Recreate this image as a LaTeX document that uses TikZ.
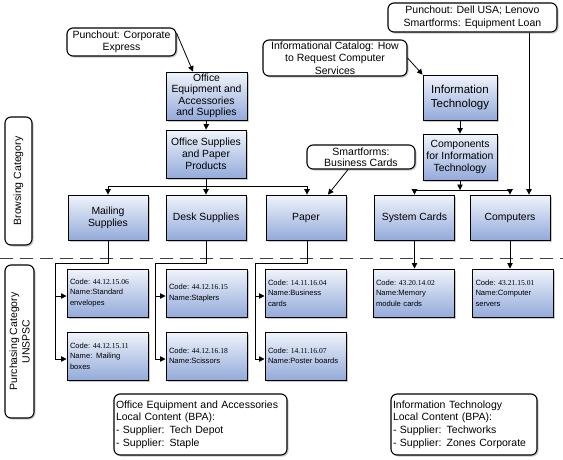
\documentclass[tikz,border=0pt]{standalone}
\usepackage{fontspec}
\setmainfont{Liberation Sans}
\newfontfamily\numfont{Liberation Serif}
\usetikzlibrary{shadows,arrows.meta}
\definecolor{boxtop}{HTML}{F0F4FB}
\definecolor{boxbot}{HTML}{93AADA}
\definecolor{dashgray}{HTML}{404040}
\tikzset{
  shad/.style={drop shadow={shadow xshift=1.5pt,shadow yshift=-1.5pt,fill=black!35,opacity=0.6}},
  bluebox/.style={draw,line width=0.8pt,top color=boxtop,bottom color=boxbot,shad,
    align=center,inner sep=1pt,font=\fontsize{10.4}{12}\selectfont},
  codebox/.style={bluebox,align=left,inner sep=3pt,text width=75pt,
    minimum width=81pt,minimum height=48pt,line width=1pt,font=\fontsize{7.6}{10.5}\selectfont},
  callout/.style={draw,line width=1.1pt,rounded corners=6pt,fill=white,shad,
    align=center,inner sep=1pt,font=\fontsize{10.5}{12.5}\selectfont},
  leftcall/.style={callout,align=left,inner sep=2pt},
  conn/.style={draw,line width=0.8pt,-{Triangle[length=5.5pt,width=5.5pt]}},
  plain/.style={draw,line width=0.8pt},
}
\newcommand{\cd}[1]{Code:~{\numfont #1}}
\begin{document}
\begin{tikzpicture}[x=1pt,y=-1pt]
\useasboundingbox (0,0) rectangle (563,459);
\fill[white] (0,0) rectangle (563,459);

% dashed separator
\draw[dashgray,line width=0.9pt,dash pattern=on 13pt off 7pt] (0,258) -- (563,258);

% side labels
\node[callout,rotate=90,minimum width=128pt,minimum height=27pt] (browse) at (18.5,181) {Browsing Category};
\node[callout,rotate=90,minimum width=153pt,minimum height=29pt,font=\fontsize{10.5}{12.5}\selectfont] (purch) at (19.5,341.5) {Purchasing Category\\UNSPSC};

% callouts
\node[callout,minimum width=109pt,minimum height=28pt] (pce) at (121.5,42) {Punchout: Corporate\\Express};
\node[callout,minimum width=144pt,minimum height=36pt] (icat) at (335,58) {Informational Catalog: How\\to Request Computer\\Services};
\node[callout,minimum width=169pt,minimum height=29pt] (pdell) at (472.5,17.5) {Punchout: Dell USA; Lenovo\\Smartforms: Equipment Loan};
\node[callout,minimum width=108pt,minimum height=24pt,font=\fontsize{10.5}{11.5}\selectfont] (sbc) at (361,157) {Smartforms:\\Business Cards};

% browsing boxes
\node[bluebox,minimum width=81pt,minimum height=48pt,font=\fontsize{10.4}{11.4}\selectfont] (oe) at (206.5,96) {Office\\Equipment and\\Accessories\\and Supplies};
\node[bluebox,minimum width=80pt,minimum height=48pt] (osp) at (206,154) {Office Supplies\\and Paper\\Products};
\node[bluebox,minimum width=74pt,minimum height=45pt,font=\fontsize{11.5}{14}\selectfont] (it) at (460,97.5) {Information\\Technology};
\node[bluebox,minimum width=74pt,minimum height=46pt] (comp) at (460,157) {Components\\for Information\\Technology};

\node[bluebox,minimum width=80pt,minimum height=45pt] (mail) at (108,217.5) {Mailing\\Supplies};
\node[bluebox,minimum width=80pt,minimum height=45pt] (desk) at (206,217.5) {Desk Supplies};
\node[bluebox,minimum width=80pt,minimum height=45pt] (paper) at (306,217.5) {Paper};
\node[bluebox,minimum width=80pt,minimum height=45pt] (sysc) at (414.5,217.5) {System Cards};
\node[bluebox,minimum width=80pt,minimum height=45pt] (cmpt) at (510,217.5) {Computers};

% code boxes
\node[codebox] (c11) at (107.5,293) {\cd{44.12.15.06}\\Name:Standard\\envelopes};
\node[codebox] (c12) at (107.5,356) {\cd{44.12.15.11}\\Name: Mailing\\boxes};
\node[codebox] (c21) at (206.5,293) {\cd{44.12.16.15}\\Name:Staplers};
\node[codebox] (c22) at (206.5,356) {\cd{44.12.16.18}\\Name:Scissors};
\node[codebox] (c31) at (305.5,293) {\cd{14.11.16.04}\\Name:Business\\cards};
\node[codebox] (c32) at (305.5,356) {\cd{14.11.16.07}\\Name:Poster boards};
\node[codebox] (c41) at (413.5,293) {\cd{43.20.14.02}\\Name:Memory\\module cards};
\node[codebox] (c51) at (513,293) {\cd{43.21.15.01}\\Name:Computer\\servers};

% local content boxes
\node[leftcall,minimum width=173pt,minimum height=61pt,text width=169pt,font=\fontsize{10.5}{12.8}\selectfont] (oelc) at (200.5,424.5) {Office Equipment and Accessories\\Local Content (BPA):\\- Supplier: Tech Depot\\- Supplier: Staple};
\node[leftcall,minimum width=146pt,minimum height=61pt,text width=142pt,font=\fontsize{10.5}{12.8}\selectfont] (itlc) at (464,424.5) {Information Technology\\Local Content (BPA):\\- Supplier: Techworks\\- Supplier: Zones Corporate};

% coordinates
\coordinate (br1) at (206,186);
\coordinate (br2) at (460,190);
\coordinate (m1) at (108,263);
\coordinate (m2) at (55,263);
\coordinate (d1) at (206,263);
\coordinate (d2) at (155,263);
\coordinate (p1) at (307,263);
\coordinate (p2) at (255,263);

% connectors top
\draw[conn] ([yshift=9pt]pce.east) -- ([xshift=-13.5pt]oe.north);
\draw[conn] (oe.south) -- (osp.north);
\draw[plain] (osp.south) -- (br1);
\draw[conn] (br1) -| (mail.north);
\draw[conn] (br1) -- (desk.north);
\draw[conn] (br1) -| ([xshift=1pt]paper.north);
\draw[conn] ([xshift=-13pt]sbc.south) -- ([xshift=22pt]paper.north);
\draw[conn] (icat.east) -- (it.north west);
\draw[conn] (it.south) -- (comp.north);
\draw[conn] (comp.south) -- (br2);
\draw[conn] (br2) -| (sysc.north);
\draw[conn] (br2) -| (cmpt.north);
\draw[conn] ([xshift=19pt]cmpt.north |- pdell.south) -- ([xshift=19pt]cmpt.north);

% connectors bottom
\draw[plain] (mail.south) -- (m1) -- (m2);
\draw[conn] (m2) |- ([yshift=-3pt]c11.west);
\draw[conn] (m2) |- ([yshift=-3pt]c12.west);
\draw[plain] (desk.south) -- (d1) -- (d2);
\draw[conn] (d2) |- ([yshift=-3pt]c21.west);
\draw[conn] (d2) |- ([yshift=-3pt]c22.west);
\draw[plain] ([xshift=1pt]paper.south) -- (p1) -- (p2);
\draw[conn] (p2) |- ([yshift=-3pt]c31.west);
\draw[conn] (p2) |- ([yshift=-3pt]c32.west);
\draw[conn] (sysc.south) -- (sysc.south |- c41.north);
\draw[conn] (cmpt.south) -- (cmpt.south |- c51.north);
\end{tikzpicture}
\end{document}
